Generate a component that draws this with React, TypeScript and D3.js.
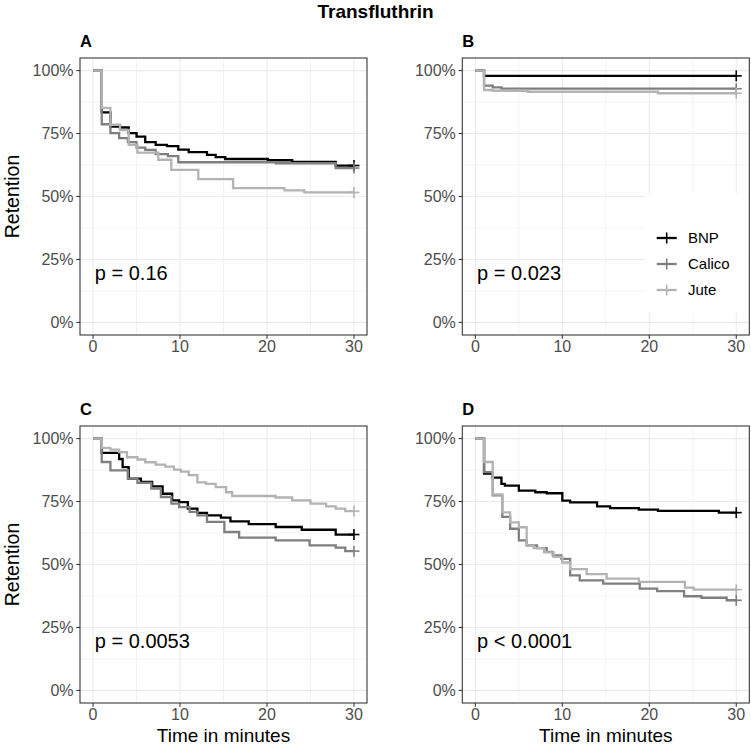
import React from "react";
import * as d3 from "d3";

type Step = [number, number];

// Groups, colours and labels
const GROUPS = ["BNP", "Calico", "Jute"];
const GROUP_COLORS = ["#000000", "#7f7f7f", "#b3b3b3"];
const X_TICKS = [0, 10, 20, 30];
const X_MINOR = [5, 15, 25];
const Y_TICKS = [0, 0.25, 0.5, 0.75, 1];
const Y_MINOR = [0.125, 0.375, 0.625, 0.875];
const PANEL_LABELS = ["A", "B", "C", "D"];
const P_VALUES = ["p = 0.16", "p = 0.023", "p = 0.0053", "p < 0.0001"];

// Kaplan–Meier step estimates: [time (min), retention]
const A_BNP: Step[] = [
  [0, 1], [1, 0.834], [2, 0.778], [3.1, 0.774], [4.1, 0.752], [5, 0.738], [6, 0.716],
  [7.2, 0.705], [8.5, 0.7], [9.8, 0.686], [11, 0.676], [13.1, 0.665], [14.1, 0.656],
  [15.2, 0.649], [20.1, 0.644], [22.9, 0.637], [27.9, 0.623], [30, 0.623],
];
const A_CALICO: Step[] = [
  [0, 1], [1, 0.787], [2, 0.752], [3, 0.732], [4, 0.716], [5, 0.694], [6, 0.685],
  [7.2, 0.668], [8.6, 0.66], [9.8, 0.636], [21, 0.632], [27.9, 0.613], [30, 0.613],
];
const A_JUTE: Step[] = [
  [0, 1], [1, 0.852], [2, 0.785], [3.1, 0.764], [4.1, 0.705], [5.1, 0.674], [7.5, 0.646],
  [9, 0.606], [12.1, 0.569], [16.1, 0.533], [22, 0.524], [24.3, 0.516], [30, 0.516],
];

const B_BNP: Step[] = [[0, 1], [1, 0.979], [30, 0.979]];
const B_CALICO: Step[] = [[0, 1], [1, 0.94], [2, 0.933], [3, 0.928], [30, 0.928]];
const B_JUTE: Step[] = [[0, 1], [1, 0.923], [2, 0.92], [6, 0.916], [21, 0.91], [30, 0.91]];

const C_BNP: Step[] = [
  [0, 1], [1, 0.943], [3, 0.919], [3.4, 0.887], [4.1, 0.841], [5.5, 0.828], [6.8, 0.81],
  [8, 0.781], [9.1, 0.755], [9.9, 0.748], [10.9, 0.722], [12, 0.705], [13.1, 0.695],
  [14.7, 0.686], [15.8, 0.671], [17.9, 0.66], [21, 0.649], [24, 0.638], [27.9, 0.619],
  [30, 0.619],
];
const C_CALICO: Step[] = [
  [0, 1], [1, 0.907], [2, 0.874], [4, 0.841], [5.1, 0.824], [6.7, 0.801], [7.8, 0.768],
  [9, 0.742], [9.9, 0.728], [11.1, 0.709], [12, 0.695], [13.1, 0.669], [15.1, 0.629],
  [16.8, 0.607], [21, 0.596], [24.9, 0.576], [27.9, 0.567], [29, 0.553], [30, 0.553],
];
const C_JUTE: Step[] = [
  [0, 1], [1, 0.963], [2, 0.956], [3, 0.946], [3.9, 0.926], [5.1, 0.917], [6, 0.906],
  [7.2, 0.897], [8.3, 0.889], [9.3, 0.877], [10.1, 0.869], [11, 0.855], [12, 0.826],
  [13, 0.82], [14.1, 0.807], [15.3, 0.787], [16, 0.772], [21, 0.766], [22.9, 0.755],
  [25, 0.742], [26.8, 0.731], [27.9, 0.722], [29, 0.712], [30, 0.712],
];

const D_BNP: Step[] = [
  [0, 1], [1, 0.861], [2, 0.845], [3, 0.82], [3.4, 0.813], [5, 0.793], [6.9, 0.787],
  [8.2, 0.783], [10, 0.754], [10.9, 0.747], [14, 0.731], [15.5, 0.724], [18.8, 0.718],
  [21, 0.713], [28, 0.706], [30, 0.706],
];
const D_CALICO: Step[] = [
  [0, 1], [1, 0.867], [2, 0.775], [3.1, 0.689], [4, 0.642], [5, 0.596], [5.9, 0.576],
  [7.1, 0.565], [8.2, 0.55], [8.9, 0.536], [9.9, 0.522], [10.9, 0.457], [12, 0.437],
  [14.7, 0.424], [18.9, 0.404], [20.9, 0.394], [24, 0.374], [26, 0.368], [28.9, 0.358],
  [30, 0.358],
];
const D_JUTE: Step[] = [
  [0, 1], [1, 0.907], [2, 0.778], [3.1, 0.707], [4, 0.667], [5, 0.648], [5.9, 0.575],
  [6.7, 0.565], [7.9, 0.548], [9, 0.53], [10, 0.508], [10.9, 0.482], [12.8, 0.462],
  [15.1, 0.444], [18.8, 0.431], [24.1, 0.408], [25.1, 0.4], [30, 0.4],
];

const PANEL_SERIES: Step[][][] = [
  [A_BNP, A_CALICO, A_JUTE],
  [B_BNP, B_CALICO, B_JUTE],
  [C_BNP, C_CALICO, C_JUTE],
  [D_BNP, D_CALICO, D_JUTE],
];

const W = 751;
const H = 750;
const FONT = "'Liberation Sans', Arial, Helvetica, sans-serif";
const PW = 287;
const PH = 277;
const COL_X = [80, 462.3];
const ROW_Y = [58, 426];

const xScale = (x0: number) => d3.scaleLinear().domain([-1.5, 31.5]).range([x0, x0 + PW]);
const yScale = (y0: number) => d3.scaleLinear().domain([-0.05, 1.05]).range([y0 + PH, y0]);

function Panel({ idx }: { idx: number }) {
  const col = idx % 2;
  const row = Math.floor(idx / 2);
  const x0 = COL_X[col];
  const y0 = ROW_Y[row];
  const x = xScale(x0);
  const y = yScale(y0);
  const line = d3
    .line<Step>()
    .x((d) => x(d[0]))
    .y((d) => y(d[1]))
    .curve(d3.curveStepAfter);
  const grid = "#ebebeb";
  const cs = 5.5;
  return (
    <g>
      <rect x={x0} y={y0} width={PW} height={PH} fill="#ffffff" />
      {Y_MINOR.map((v) => (
        <line key={"ym" + v} x1={x0} x2={x0 + PW} y1={y(v)} y2={y(v)} stroke={grid} strokeWidth={0.6} />
      ))}
      {X_MINOR.map((v) => (
        <line key={"xm" + v} x1={x(v)} x2={x(v)} y1={y0} y2={y0 + PH} stroke={grid} strokeWidth={0.6} />
      ))}
      {Y_TICKS.map((v) => (
        <line key={"yg" + v} x1={x0} x2={x0 + PW} y1={y(v)} y2={y(v)} stroke={grid} strokeWidth={1.1} />
      ))}
      {X_TICKS.map((v) => (
        <line key={"xg" + v} x1={x(v)} x2={x(v)} y1={y0} y2={y0 + PH} stroke={grid} strokeWidth={1.1} />
      ))}
      {idx === 1 && <rect x={645} y={193} width={748 - 645} height={120} fill="#ffffff" />}
      {PANEL_SERIES[idx].map((s, i) => {
        const last = s[s.length - 1];
        return (
          <g key={GROUPS[i]}>
            <path d={line(s) || ""} fill="none" stroke={GROUP_COLORS[i]} strokeWidth={2.3} />
            <line x1={x(last[0]) - cs} x2={x(last[0]) + cs} y1={y(last[1])} y2={y(last[1])} stroke={GROUP_COLORS[i]} strokeWidth={1.6} />
            <line x1={x(last[0])} x2={x(last[0])} y1={y(last[1]) - cs} y2={y(last[1]) + cs} stroke={GROUP_COLORS[i]} strokeWidth={1.6} />
          </g>
        );
      })}
      <rect x={x0} y={y0} width={PW} height={PH} fill="none" stroke="#333333" strokeWidth={1.07} />
      {Y_TICKS.map((v) => (
        <g key={"yt" + v}>
          <line x1={x0 - 3.7} x2={x0} y1={y(v)} y2={y(v)} stroke="#333333" strokeWidth={1.07} />
          <text x={x0 - 6.5} y={y(v)} dy="0.36em" textAnchor="end" fontSize={16} fill="#4d4d4d" fontFamily={FONT}>
            {d3.format(".0%")(v)}
          </text>
        </g>
      ))}
      {X_TICKS.map((v) => (
        <g key={"xt" + v}>
          <line x1={x(v)} x2={x(v)} y1={y0 + PH} y2={y0 + PH + 3.7} stroke="#333333" strokeWidth={1.07} />
          <text x={x(v)} y={y0 + PH + 16.5} textAnchor="middle" fontSize={16} fill="#4d4d4d" fontFamily={FONT}>
            {v}
          </text>
        </g>
      ))}
      <text x={x0} y={y0 - 11.5} fontSize={16.5} fontWeight="bold" fill="#000" fontFamily={FONT}>
        {PANEL_LABELS[idx]}
      </text>
      <text x={x(0.2)} y={y(0.17)} fontSize={20} fill="#000" fontFamily={FONT}>
        {P_VALUES[idx]}
      </text>
      {col === 0 && (
        <text
          transform={`translate(19,${y0 + PH / 2}) rotate(-90)`}
          textAnchor="middle"
          fontSize={19.5}
          fill="#000"
          fontFamily={FONT}
        >
          Retention
        </text>
      )}
      {row === 1 && (
        <text x={x0 + PW / 2} y={741.5} textAnchor="middle" fontSize={19} fill="#000" fontFamily={FONT}>
          Time in minutes
        </text>
      )}
      {idx === 1 &&
        GROUPS.map((g, i) => {
          const ly = 238 + i * 26;
          return (
            <g key={"lg" + g}>
              <line x1={656.7} x2={676.7} y1={ly} y2={ly} stroke={GROUP_COLORS[i]} strokeWidth={2.3} />
              <line x1={666.7} x2={666.7} y1={ly - cs} y2={ly + cs} stroke={GROUP_COLORS[i]} strokeWidth={1.6} />
              <text x={688} y={ly} dy="0.36em" fontSize={15} fill="#000" fontFamily={FONT}>
                {g}
              </text>
            </g>
          );
        })}
    </g>
  );
}

export default function App() {
  return (
    <div style={{ position: "absolute", left: 0, top: 0 }}>
      <svg width={W} height={H} style={{ display: "block", background: "#ffffff" }}>
        <rect width={W} height={H} fill="#ffffff" />
        <text x={W / 2} y={18} textAnchor="middle" fontSize={19} fontWeight="bold" fill="#000" fontFamily={FONT}>
          Transfluthrin
        </text>
        {[0, 1, 2, 3].map((i) => (
          <Panel key={i} idx={i} />
        ))}
      </svg>
    </div>
  );
}
